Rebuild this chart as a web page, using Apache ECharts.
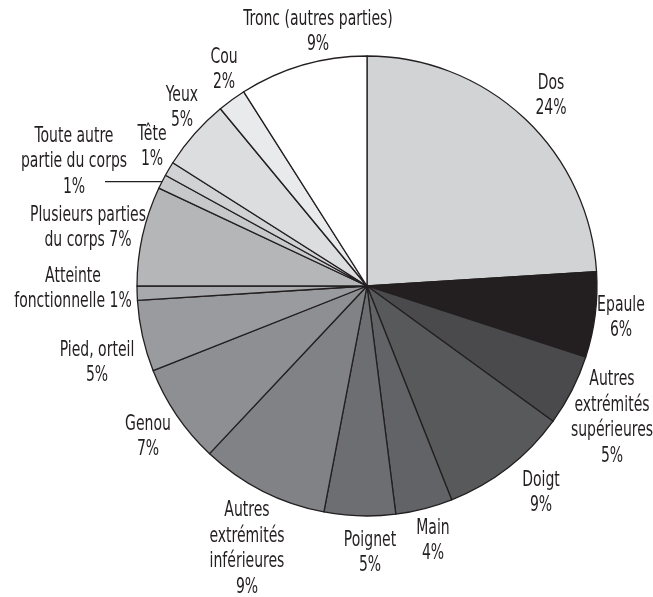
<!DOCTYPE html>
<html>
<head>
<meta charset="utf-8">
<script src="https://cdn.jsdelivr.net/npm/echarts@6/dist/echarts.min.js"></script>
<style>
  html, body { margin: 0; padding: 0; background: #ffffff; }
  #chart { width: 653px; height: 597px; }
</style>
</head>
<body>
<div id="chart"></div>
<script>
// Body parts affected, clockwise from 12 o'clock
const categories = [
  'Dos', 'Epaule', 'Autres extrémités supérieures', 'Doigt', 'Main', 'Poignet',
  'Autres extrémités inférieures', 'Genou', 'Pied, orteil', 'Atteinte fonctionnelle',
  'Plusieurs parties du corps', 'Toute autre partie du corps', 'Tête', 'Yeux', 'Cou',
  'Tronc (autres parties)'
];
// Share of cases, percent
const shares = [24, 6, 5, 9, 4, 5, 9, 7, 5, 1, 7, 1, 1, 5, 2, 9];

// Grey ramp for the slices
const sliceColors = [
  '#d1d3d4', '#231f20', '#4a4a4d', '#58595b', '#626366', '#6d6e71',
  '#808285', '#8e8f92', '#999b9e', '#a7a9ac', '#b5b6b8', '#c7c8ca',
  '#d1d2d4', '#dcdddf', '#e9eaeb', '#ffffff'
];

// How each label is broken into lines ({v} is replaced by the share)
const labelWrap = {
  'Dos': 'Dos\n{v}',
  'Epaule': 'Epaule\n{v}',
  'Autres extrémités supérieures': 'Autres\nextrémités\nsupérieures\n{v}',
  'Doigt': 'Doigt\n{v}',
  'Main': 'Main\n{v}',
  'Poignet': 'Poignet\n{v}',
  'Autres extrémités inférieures': 'Autres\nextrémités\ninférieures\n{v}',
  'Genou': 'Genou\n{v}',
  'Pied, orteil': 'Pied, orteil\n{v}',
  'Atteinte fonctionnelle': 'Atteinte\nfonctionnelle {v}',
  'Plusieurs parties du corps': 'Plusieurs parties\ndu corps {v}',
  'Toute autre partie du corps': 'Toute autre\npartie du corps\n{v}',
  'Tête': 'Tête\n{v}',
  'Yeux': 'Yeux\n{v}',
  'Cou': 'Cou\n{v}',
  'Tronc (autres parties)': 'Tronc (autres parties)\n{v}'
};

// Label block centres (px)
const labelAnchor = [
  [551, 96], [621, 318], [612, 418], [541, 493], [433, 541], [370, 553],
  [247, 549], [148, 437], [97, 363], [73, 289], [88, 228], [74, 162],
  [152, 147], [182, 108], [224, 70], [318, 32]
];
const leaderIndex = 11;
const leaderEndX = 105;

const INK = '#231f20';
const FONT = '"DejaVu Sans Condensed", "Liberation Sans Narrow", sans-serif';
// Horizontal squeeze applied to the label text for a condensed look
const LABEL_SQUEEZE = 0.76;

const chart = echarts.init(document.getElementById('chart'), null, { renderer: 'canvas' });

const data = categories.map((name, i) => ({
  name: name,
  value: shares[i],
  itemStyle: { color: sliceColors[i] },
  labelLine: { show: i === leaderIndex, lineStyle: { color: INK, width: 1.3 } }
}));

chart.setOption({
  animation: false,
  backgroundColor: '#ffffff',
  series: [{
    type: 'pie',
    center: [367, 286],
    radius: 230,
    startAngle: 90,
    clockwise: true,
    avoidLabelOverlap: false,
    silent: true,
    data: data,
    itemStyle: { borderColor: INK, borderWidth: 1.3 },
    label: {
      show: true,
      position: 'outside',
      color: INK,
      fontFamily: FONT,
      fontSize: 20.5,
      lineHeight: 25.5,
      align: 'center',
      formatter: p => labelWrap[p.name].replace('{v}', p.value + '%')
    },
    labelLine: { show: false, length: 10, length2: 10 },
    labelLayout: function (params) {
      const a = labelAnchor[params.dataIndex];
      const out = { x: a[0], y: a[1], align: 'center', verticalAlign: 'middle', hideOverlap: false };
      if (params.dataIndex === leaderIndex && params.labelLinePoints) {
        const p0 = params.labelLinePoints[0];
        out.labelLinePoints = [p0, [p0[0] - 1, p0[1]], [leaderEndX, p0[1]]];
      }
      return out;
    }
  }]
});

// Narrow the label glyphs around each label's anchor
const pieData = chart.getModel().getSeriesByIndex(0).getData();
pieData.each(function (idx) {
  const el = pieData.getItemGraphicEl(idx);
  const txt = el && el.getTextContent && el.getTextContent();
  if (txt) {
    txt.scaleX = LABEL_SQUEEZE;
    txt.markRedraw();
  }
});
chart.getZr().refreshImmediately();
</script>
</body>
</html>
